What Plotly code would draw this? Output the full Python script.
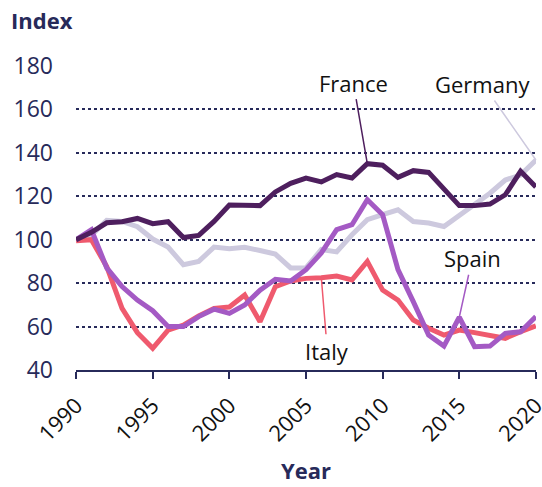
import plotly.graph_objects as go

years = list(range(1990, 2021))

france = [100, 103.4, 107.8, 108.3, 109.8, 107.4, 108.3, 101, 102, 108.4, 116,
          116, 115.7, 122, 126, 128.4, 126.6, 130, 128.4, 135, 134.3,
          128.7, 131.8, 131, 123, 115.7, 115.7, 116.4, 120.7, 131.5, 124.3]
germany = [100, 102, 108.9, 108.4, 106, 100.3, 96.6, 88.5, 90, 96.6, 95.8,
           96.5, 95, 93.4, 87, 87, 95.5, 94.4, 102.3, 109.2, 111.5,
           113.8, 108.4, 107.7, 106.1, 111, 116, 121.4, 127.5, 129.8, 136.7]
italy = [99.5, 100, 87.6, 68.4, 57.2, 50, 58.4, 60.7, 64.9, 68.4, 69,
         74.5, 62.2, 78.4, 81, 82.2, 82.5, 83.3, 81.5, 90, 76.8,
         72.2, 63, 59.2, 56.1, 58.4, 57.2, 55.7, 54.6, 57.6, 60.3]
spain = [100, 104.6, 87, 78.4, 72.2, 67.3, 60, 60, 64.6, 68, 66.1,
         69.9, 76.8, 81.8, 81, 86.2, 93.9, 104.6, 106.9, 118.4, 111.5,
         86.2, 71.5, 56.1, 51, 64.3, 50.7, 51, 56.9, 57.6, 64.6]

series = [
    ("Germany", germany, "#cdc9de"),
    ("Italy", italy, "#ef5a6e"),
    ("Spain", spain, "#a45ac4"),
    ("France", france, "#4e1f5e"),
]

y_ticks = [40, 60, 80, 100, 120, 140, 160, 180]
x_ticks = [1990, 1995, 2000, 2005, 2010, 2015, 2020]

NAVY = "#272a5a"
FONT = "Open Sans"

fig = go.Figure()
for name, vals, color in series:
    fig.add_trace(go.Scatter(x=years, y=vals, mode="lines", name=name,
                             line=dict(color=color, width=5),
                             hoverinfo="skip"))

def label(name, vals, year, ax, ay, color):
    i = years.index(year)
    fig.add_annotation(x=year, y=vals[i], xref="x", yref="y", text=name,
                       showarrow=True, arrowhead=0, arrowwidth=1.5,
                       arrowcolor=color, ax=ax, ay=ay, standoff=0,
                       font=dict(family=FONT, size=22, color="#111111"))

label("France", france, 2009, -14, -81, "#4e1f5e")
label("Germany", germany, 2020, -53, -76, "#cdc9de")
label("Spain", spain, 2015, 13, -59, "#a45ac4")
label("Italy", italy, 2006, 6, 73, "#ef5a6e")

fig.add_annotation(x=-0.145, y=1.151, xref="paper", yref="paper",
                   xanchor="left", yanchor="middle", showarrow=False,
                   text="<b>Index</b>", font=dict(family=FONT, size=22, color=NAVY))
fig.add_annotation(x=0.5, y=-0.33, xref="paper", yref="paper",
                   xanchor="center", yanchor="middle", showarrow=False,
                   text="<b>Year</b>", font=dict(family=FONT, size=22, color=NAVY))

fig.update_layout(
    width=542, height=487,
    margin=dict(l=76, r=6, t=66, b=117),
    paper_bgcolor="white", plot_bgcolor="white",
    showlegend=False,
    font=dict(family=FONT),
    xaxis=dict(range=[1989.995, 2020.005], tickvals=x_ticks, ticktext=[str(t) for t in x_ticks],
               tickangle=-45, tickfont=dict(family=FONT, size=22, color="#111111"),
               ticklabeloverflow="allow", ticklabelstandoff=5,
               showgrid=False, zeroline=False, showline=True, linecolor=NAVY,
               linewidth=2, ticks="outside", ticklen=7, tickwidth=2, tickcolor=NAVY,
               automargin=False),
    yaxis=dict(range=[40, 180], tickvals=y_ticks,
               tickfont=dict(family=FONT, size=23, color=NAVY),
               ticklabeloverflow="allow",
               showgrid=True, gridcolor=NAVY, gridwidth=1.5, griddash="dot",
               zeroline=False, showline=False, ticks="", ticklabelstandoff=22,
               automargin=False),
)

fig.write_html("out.html", config={"displayModeBar": False},
               post_script="document.body.style.margin='0px';document.body.style.overflow='hidden';")
